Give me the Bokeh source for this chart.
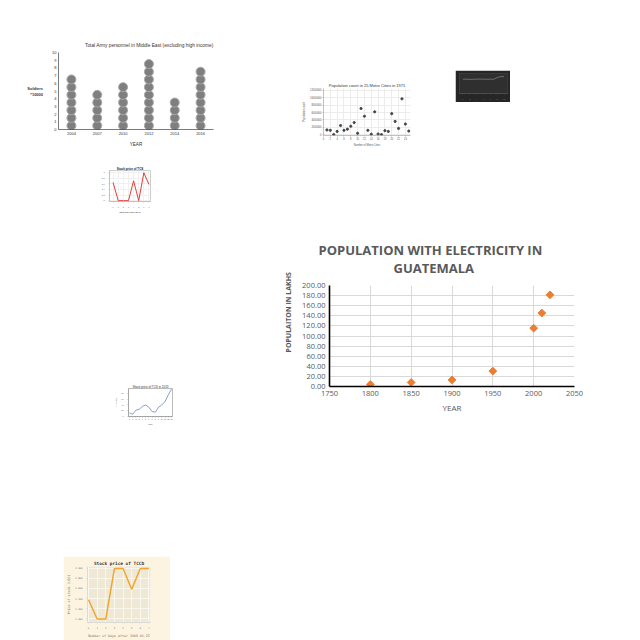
import math
from bokeh.plotting import figure
from bokeh.layouts import row, column
from bokeh.models import (Range1d, FactorRange, SingleIntervalTicker, FixedTicker,
                          NumeralTickFormatter, Title, Spacer)
from bokeh.embed import file_html
from bokeh.resources import INLINE

# ---------------- data ----------------
elec_years = [1800, 1850, 1900, 1950, 2000, 2010, 2020]
elec_pop = [4.0, 8.0, 13.0, 30.5, 115.5, 145.5, 181.5]

army_years = ["2004", "2007", "2010", "2012", "2014", "2016"]
army_counts = [7, 5, 6, 9, 4, 8]

metro_idx = list(range(1, 26))
metro_pop = [1.3e6, 1.2e6, 0.05e6, 0.9e6, 2.5e6, 1.2e6, 1.5e6, 2.3e6, 3.3e6, 0.4e6,
             7.1e6, 5.0e6, 1.2e6, 0.15e6, 6.2e6, 0.2e6, 0.05e6, 1.1e6, 0.9e6, 5.7e6,
             3.6e6, 1.7e6, 9.7e6, 2.9e6, 1.0e6]

red_days = [0, 1, 2, 3, 4, 5, 6, 7]
red_price = [2.65, 2.0, 2.0, 2.0, 2.71, 2.0, 3.0, 2.58]

blue_days = list(range(14))
blue_price = [12, 8, 22, 25, 35, 40, 32, 17, 15, 32, 40, 52, 75, 95]

tccd_days = [0, 1, 2, 3, 4, 5, 6, 7]
tccd_price = [1.38, 1.0, 1.0, 2.0, 2.0, 1.59, 2.0, 2.0]

dark_x = list(range(13))
dark_vals = [5.0, 5.0, 4.95, 5.0, 5.0, 5.05, 5.0, 5.0, 5.0, 5.0, 5.6, 5.9, 5.9]

GREY = "#595959"


def set_standoff(t, v, fallback=0):
    try:
        t.standoff = v
    except Exception:
        t.standoff = fallback


def tiny_axes(p, size="3px", color="#444444", line_color="#444444"):
    for ax in p.xaxis + p.yaxis:
        ax.major_label_text_font_size = size
        ax.major_label_text_color = color
        ax.axis_label_text_font_size = size
        ax.axis_label_text_font_style = "normal"
        ax.axis_label_text_color = color
        ax.major_label_standoff = 1
        ax.axis_label_standoff = 1
        ax.major_tick_out = 1
        ax.major_tick_in = 0
        ax.minor_tick_line_color = None
        ax.axis_line_color = line_color
        ax.major_tick_line_color = line_color
        ax.axis_line_width = 0.6
        ax.major_tick_line_width = 0.6


# ---------------- army dot chart ----------------
army = figure(width=193, height=114, x_range=FactorRange(factors=army_years, range_padding=0),
              y_range=Range1d(0, 10), output_backend="svg", toolbar_location=None,
              title=None, min_border_left=33, min_border_right=4, min_border_top=16,
              min_border_bottom=21)
ax_x, ax_y = [], []
for yr, n in zip(army_years, army_counts):
    for k in range(n):
        ax_x.append(yr)
        ax_y.append(k + 0.5)
army.scatter(ax_x, ax_y, size=9, fill_color="#7f7f7f", line_color="#a9a9a9", line_width=1)
t = Title(text="Total Army personnel in Middle East (excluding high income)",
          align="right", text_font_size="4.8px", text_font_style="normal",
          text_color="#333333", text_font="Liberation Sans")
set_standoff(t, 9)
army.add_layout(t, "above")
army.yaxis.ticker = FixedTicker(ticks=list(range(11)))
tiny_axes(army, size="4px", color="#333333", line_color="#222222")
army.yaxis.axis_label = "Soldiers\n*10000"
army.yaxis.axis_label_orientation = "horizontal"
army.yaxis.axis_label_text_font_style = "bold"
army.yaxis.axis_label_standoff = 6
army.xaxis.axis_label = "YEAR"
army.xaxis.axis_label_text_font_size = "4.6px"
army.xaxis.axis_label_standoff = 4
army.xaxis.major_tick_line_color = None
army.yaxis.major_tick_line_color = None
army.grid.grid_line_color = None
army.outline_line_color = None

# ---------------- metro scatter ----------------
sc = figure(width=116, height=72, x_range=Range1d(0, 25.5), y_range=Range1d(-2e5, 12.5e6),
            output_backend="svg", toolbar_location=None, title=None,
            min_border_left=20, min_border_right=6, min_border_top=10, min_border_bottom=9)
sc.scatter(metro_idx, metro_pop, size=2.2, color="#444444")
t = Title(text="Population count in 25 Metro Cities in 1971", align="center",
          text_font_size="4px", text_font_style="normal", text_color="#333333")
set_standoff(t, 1)
sc.add_layout(t, "above")
sc.xaxis.ticker = FixedTicker(ticks=list(range(0, 25, 2)))
sc.yaxis.ticker = FixedTicker(ticks=[0, 2e6, 4e6, 6e6, 8e6, 10e6, 12e6])
sc.yaxis.formatter = NumeralTickFormatter(format="0")
tiny_axes(sc, size="2.6px", color="#555555", line_color="#e07a7a")
sc.xaxis.axis_label = "Number of Metro Cities"
sc.yaxis.axis_label = "Population count"
sc.grid.grid_line_color = "#ececec"
sc.outline_line_color = None

# ---------------- dark chart ----------------
dk = figure(width=55, height=32, x_range=Range1d(-1, 13), y_range=Range1d(0, 7),
            output_backend="svg", toolbar_location=None, title=None,
            background_fill_color="#2f2f2f", border_fill_color="#262626",
            min_border_left=4, min_border_right=3, min_border_top=3, min_border_bottom=5)
dk.line(dark_x, dark_vals, color="#6e6e6e", line_width=1)
tiny_axes(dk, size="2px", color="#777777", line_color="#555555")
dk.yaxis.visible = False
dk.grid.grid_line_color = None
dk.outline_line_color = "#3a3a3a"

# ---------------- red line chart ----------------
rd = figure(width=58, height=53, x_range=Range1d(-0.7, 7.3), y_range=Range1d(1.97, 3.08),
            output_backend="svg", toolbar_location=None, title=None,
            min_border_left=6, min_border_right=6, min_border_top=7, min_border_bottom=8)
rd.line(red_days, red_price, color="#e0403a", line_width=1)
t = Title(text="Stock price of TCS", align="center", text_font_size="3px",
          text_font_style="bold", text_color="#222222")
set_standoff(t, 1)
rd.add_layout(t, "above")
tiny_axes(rd, size="2px", color="#555555", line_color="#bbbbbb")
rd.xaxis.axis_label = "Days since 2017-05-10"
rd.xaxis.axis_label_text_font_style = "bold"
rd.grid.grid_line_color = "#f0f0f0"
rd.outline_line_color = "#cccccc"

# ---------------- blue line chart ----------------
bl = figure(width=66, height=46, x_range=Range1d(-0.3, 13.3), y_range=Range1d(0, 97),
            output_backend="svg", toolbar_location=None, title=None,
            min_border_left=10, min_border_right=6, min_border_top=6, min_border_bottom=8)
bl.line(blue_days, blue_price, color="#6b86c8", line_width=0.8)
t = Title(text="Share price of TCS in 2013", align="center", text_font_size="3px",
          text_font_style="normal", text_color="#333333")
set_standoff(t, 0)
bl.add_layout(t, "above")
bl.xaxis.ticker = FixedTicker(ticks=blue_days)
tiny_axes(bl, size="2px", color="#555555", line_color="#999999")
bl.xaxis.axis_label = "Date"
bl.yaxis.axis_label = "Price (Rs)"
bl.grid.grid_line_color = None
bl.outline_line_color = "#bbbbbb"

# ---------------- TCCD chart ----------------
tc = figure(width=107, height=84, x_range=Range1d(-0.12, 7.18), y_range=Range1d(0.93, 2.04),
            output_backend="svg", toolbar_location=None, title=None,
            background_fill_color="#efe8d5", border_fill_color="#fcf4e1",
            min_border_left=24, min_border_right=20, min_border_top=10, min_border_bottom=12)
tc.line(tccd_days, tccd_price, color="#f0a52e", line_width=1.5)
t = Title(text="Stock price of TCCD", align="center", text_font_size="4.4px",
          text_font_style="bold", text_color="#333333", text_font="DejaVu Sans Mono")
set_standoff(t, 1)
tc.add_layout(t, "above")
tiny_axes(tc, size="2.4px", color="#777777", line_color="#cccccc")
for ax in tc.xaxis + tc.yaxis:
    ax.axis_label_text_font = "DejaVu Sans Mono"
    ax.major_label_text_font = "DejaVu Sans Mono"
tc.xaxis.axis_label = "Number of Days after 2009-06-25"
tc.yaxis.axis_label = "Price of stock (USD)"
tc.xaxis.axis_label_text_font_size = "3.3px"
tc.yaxis.axis_label_text_font_size = "3.3px"
tc.yaxis.formatter = NumeralTickFormatter(format="0.000")
tc.grid.grid_line_color = "#ffffff"
tc.grid.grid_line_width = 0.6
tc.outline_line_color = None

# ---------------- main chart ----------------
main = figure(width=310, height=178, x_range=Range1d(1750, 2050), y_range=Range1d(0, 200),
              output_backend="svg", toolbar_location=None, title=None,
              min_border_left=53, min_border_right=11, min_border_top=48,
              min_border_bottom=29)
t2 = Title(text="GUATEMALA", align="left", offset=64,
           text_font="Open Sans", text_font_size="13px", text_font_style="bold",
           text_color=GREY)
set_standoff(t2, 18, 18)
main.add_layout(t2, "above")
t1 = Title(text="POPULATION WITH ELECTRICITY IN", align="left", offset=-11,
           text_font="Open Sans", text_font_size="13px", text_font_style="bold",
           text_color=GREY)
set_standoff(t1, -23, 0)
main.add_layout(t1, "above")
ty = Title(text="POPULAITON IN LAKHS", align="left", offset=34,
           text_font="Open Sans", text_font_size="7px", text_font_style="bold",
           text_color=GREY)
set_standoff(ty, 13, 13)
main.add_layout(ty, "left")
main.scatter(elec_years, elec_pop, marker="square", angle=math.pi / 4, size=5.5,
             fill_color="#ED7D31", line_color="#ED7D31")
main.xaxis.ticker = SingleIntervalTicker(interval=50)
main.yaxis.ticker = SingleIntervalTicker(interval=20)
main.yaxis.formatter = NumeralTickFormatter(format="0.00")
for ax in main.xaxis + main.yaxis:
    ax.axis_line_color = "black"
    ax.axis_line_width = 1.6
    ax.major_tick_line_color = None
    ax.minor_tick_line_color = None
    ax.major_tick_out = 0
    ax.major_tick_in = 0
    ax.minor_tick_out = 0
    ax.major_label_text_font = "Open Sans"
    ax.major_label_text_font_size = "7.5px"
    ax.major_label_text_color = GREY
    ax.major_label_standoff = 4
    ax.axis_label_text_font = "Open Sans"
    ax.axis_label_text_color = GREY
    ax.axis_label_standoff = 3
main.xaxis.axis_label = "YEAR"
main.xaxis.axis_label_text_font_size = "8px"
main.xaxis.axis_label_text_font_style = "normal"
main.grid.grid_line_color = "#d9d9d9"
main.outline_line_color = None

# ---------------- layout ----------------
row1 = row(Spacer(width=24, height=10),
           column(Spacer(width=10, height=36), army),
           Spacer(width=83, height=10),
           column(Spacer(width=10, height=78), sc),
           Spacer(width=39, height=10),
           column(Spacer(width=10, height=70), dk))
row2 = row(Spacer(width=98, height=10), rd)
row3 = row(Spacer(width=112, height=10),
           column(Spacer(width=10, height=145), bl),
           Spacer(width=97, height=10),
           main)
row4 = row(Spacer(width=63, height=10), tc)

page = column(row1, Spacer(width=10, height=13), row2, Spacer(width=10, height=21), row3,
              Spacer(width=10, height=128), row4)

open("out.html", "w").write(file_html(page, INLINE))
